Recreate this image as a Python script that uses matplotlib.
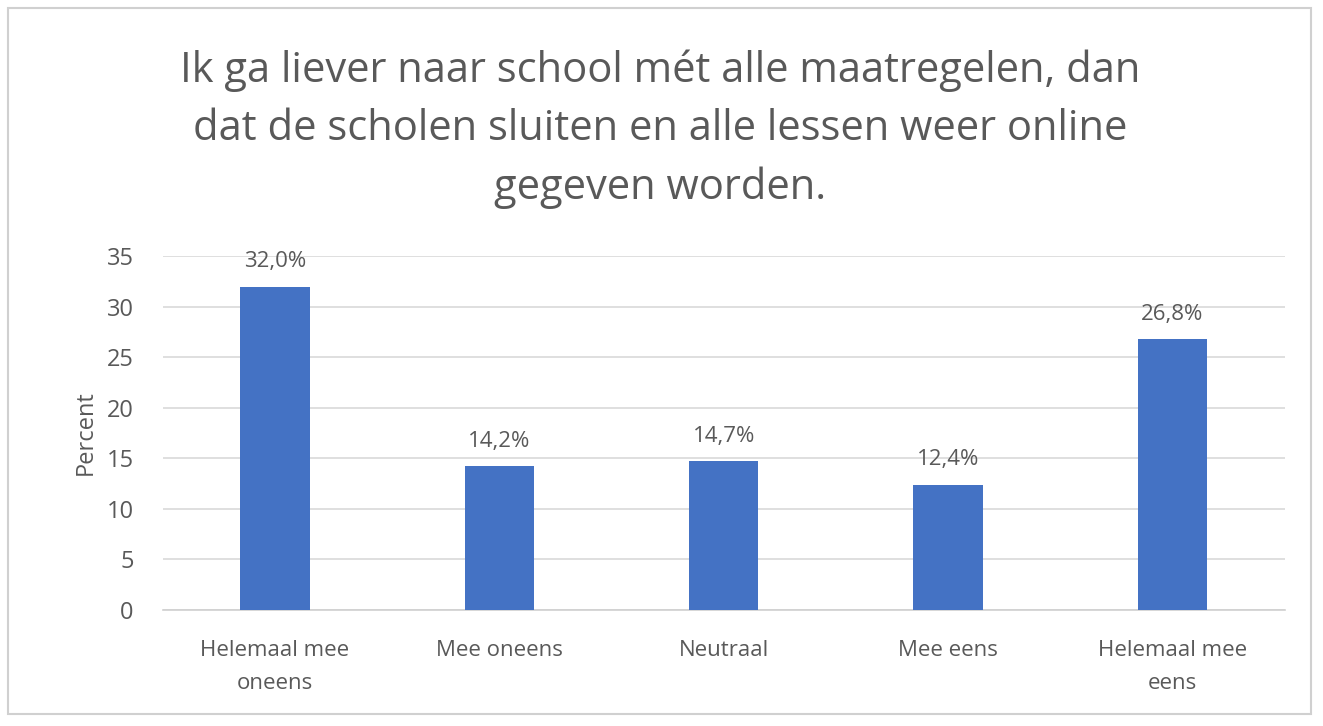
import matplotlib.pyplot as plt
from matplotlib.patches import Rectangle

categories = ["Helemaal mee\noneens", "Mee oneens", "Neutraal", "Mee eens", "Helemaal mee\neens"]
percent = [32.0, 14.2, 14.7, 12.4, 26.8]
yticks = [0, 5, 10, 15, 20, 25, 30, 35]
title = ("Ik ga liever naar school mét alle maatregelen, dan\n"
         "dat de scholen sluiten en alle lessen weer online\n"
         "gegeven worden.")

plt.rcParams['font.family'] = ['Open Sans', 'DejaVu Sans']
grey = '#595959'

fig = plt.figure(figsize=(13.23, 7.26), dpi=100)
fig.patches.append(Rectangle((0.006, 0.017), 0.985, 0.972, transform=fig.transFigure,
                             fill=False, edgecolor='#d0d0d0', linewidth=1.5))

ax = fig.add_axes([0.123, 0.160, 0.848, 0.487])
x = range(len(categories))
bars = ax.bar(x, percent, width=0.31, color='#4472C4', zorder=3)

# data labels in Dutch decimal format
for b, v in zip(bars, percent):
    ax.text(b.get_x() + b.get_width() / 2, v + 1.4, f"{v:.1f}%".replace('.', ','),
            ha='center', va='bottom', fontsize=16, color=grey)

ax.set_xlim(-0.5, len(categories) - 0.5)
ax.set_ylim(0, 35)
ax.set_yticks(yticks)
ax.set_xticks(list(x))
ax.set_xticklabels(categories, fontsize=16, color=grey, linespacing=1.75)
ax.tick_params(axis='y', labelsize=17, labelcolor=grey, length=0, pad=21)
ax.tick_params(axis='x', length=0, pad=22)
ax.grid(axis='y', color='#d9d9d9', linewidth=1.2, zorder=0)
for s in ['top', 'right', 'left']:
    ax.spines[s].set_visible(False)
ax.spines['bottom'].set_color('#d0d0d0')
ax.spines['bottom'].set_linewidth(1.2)
ax.set_ylabel('Percent', fontsize=17, color=grey, labelpad=6)

fig.text(0.499, 0.932, title, ha='center', va='top', fontsize=30, color=grey, linespacing=1.5)

fig.savefig('out.png', dpi=100)
